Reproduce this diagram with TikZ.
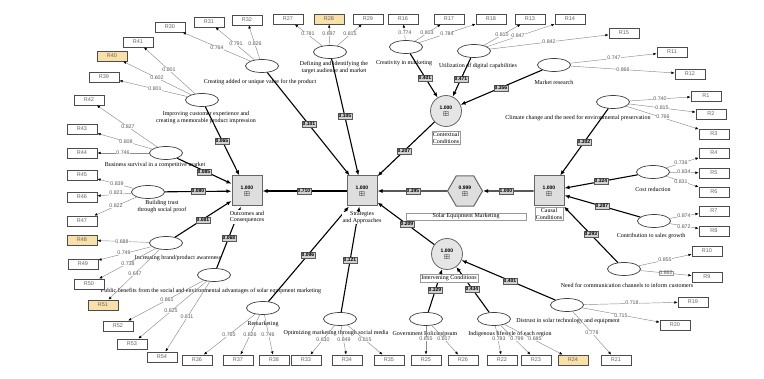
\documentclass[tikz,border=0pt]{standalone}
\usepackage{amssymb}
\usepackage{fontspec}
\setmainfont{Liberation Serif}
\setsansfont{Liberation Sans}
\usetikzlibrary{positioning, arrows.meta, shapes.geometric}
\definecolor{hlfill}{RGB}{249,224,168}
\newcommand\labfont{\fontsize{6}{6.7}\selectfont}
\newcommand\idfont{\sffamily\fontsize{5.5}{6}\selectfont}
\newcommand\numfont{\sffamily\fontsize{5.3}{6}\selectfont}
\newcommand\coeffont{\sffamily\bfseries\fontsize{5}{5.6}\selectfont}
\newcommand\hubsym{{\fontsize{6.5}{6.5}\selectfont$\boxplus$}}

\begin{document}
\begin{tikzpicture}[
    x=1pt, y=-1pt,
    lat/.style={
        ellipse,
        draw=black!75,
        line width=0.7pt,
        fill=white,
        minimum width=33pt,
        minimum height=13pt,
        inner sep=0pt
    },
    ind/.style={
        draw=black!70,
        line width=0.8pt,
        fill=white,
        minimum width=30pt,
        minimum height=10pt,
        inner sep=0pt,
        font=\idfont,
        text=black!60
    },
    indhl/.style={ind, fill=hlfill},
    hub/.style={
        draw=black!60,
        fill=black!13,
        line width=1pt,
        minimum size=30pt,
        inner sep=0pt,
        align=center,
        font=\coeffont
    },
    circ/.style={hub, circle, line width=0.8pt, fill=black!10, minimum size=31pt},
    hexa/.style={hub, regular polygon, regular polygon sides=6, minimum size=35pt},
    lbl/.style={font=\labfont, align=center, inner sep=0.5pt},
    hublbl/.style={lbl, fill=white},
    boxlbl/.style={lbl, fill=white, draw=black!40, line width=0.3pt, inner sep=1pt},
    ld/.style={
        draw=black!45,
        line width=0.45pt,
        -{Latex[length=3.2pt, width=2.6pt, color=black]}
    },
    lv/.style={fill=white, inner sep=0.4pt, font=\numfont, text=black!65},
    pth/.style={
        line width=1.1pt,
        -{Latex[length=5pt, width=4pt]}
    },
    cf/.style={
        draw=black!65,
        fill=black!18,
        line width=0.4pt,
        inner sep=1pt,
        font=\coeffont
    }
]
\useasboundingbox (0,0) rectangle (764,379);

% Hubs
\node[hub] (outc) at (247,191) {1.000\\[1pt]\hubsym};
\node[hub] (strat) at (362,191) {1.000\\[1pt]\hubsym};
\node[hub] (causal) at (549,191) {1.000\\[1pt]\hubsym};
\node[hexa] (sem) at (465,191) {0.999\\[1pt]\hubsym};
\node[circ] (ctx) at (446,111) {1.000\\[1pt]\hubsym};
\node[circ] (intv) at (447,254) {1.000\\[1pt]\hubsym};

% Latent variables (clockwise from top left)
\node[lat] (ecr) at (262,66) {};
\node[lbl] (ecr-t) at (260,82) {Creating added or unique value for the product};
\node[lat] (edf) at (330,52) {};
\node[lbl] (edf-t) at (334,67.5) {Defining and identifying the\\target audience and market};
\node[lat] (ecm) at (406,47) {};
\node[lbl] (ecm-t) at (404,63) {Creativity in marketing};
\node[lat] (eud) at (474,51) {};
\node[lbl] (eud-t) at (478,66) {Utilization of digital capabilities};
\node[lat] (emr) at (554,65) {};
\node[lbl] (emr-t) at (554,82) {Market research};
\node[lat] (ecc) at (613,102) {};
\node[lbl] (ecc-t) at (578,118) {Climate change and the need for environmental preservation};
\node[lat] (ecd) at (653,172) {};
\node[lbl] (ecd-t) at (653,189) {Cost reduction};
\node[lat] (ecs) at (654,221) {};
\node[lbl] (ecs-t) at (651,236) {Contribution to sales growth};
\node[lat] (enc) at (624,269) {};
\node[lbl] (enc-t) at (627,285) {Need for communication channels to inform customers};
\node[lat] (edt) at (567,305) {};
\node[lbl] (edt-t) at (568,321) {Distrust in solar technology and equipment};
\node[lat] (eil) at (494,319) {};
\node[lbl] (eil-t) at (510,334) {Indigenous lifestyle of each region};
\node[lat] (egp) at (426,319) {};
\node[lbl] (egp-t) at (425,334) {Government Policies|psum};
\node[lat] (eom) at (340,319) {};
\node[lbl] (eom-t) at (336,333) {Optimizing marketing through social media};
\node[lat] (erm) at (263,308) {};
\node[lbl] (erm-t) at (263,324) {Remarketing};
\node[lat] (epb) at (214,275) {};
\node[lbl] (epb-t) at (211,291) {Public benefits from the social and environmental advantages of solar equipment marketing};
\node[lat] (eib) at (166,243) {};
\node[lbl] (eib-t) at (178,258) {Increasing brand/product awareness};
\node[lat] (ebt) at (148,192) {};
\node[lbl] (ebt-t) at (162,206.5) {Building trust\\through social proof};
\node[lat] (ebs) at (166,153) {};
\node[lbl] (ebs-t) at (155,165) {Business survival in a competitive market};
\node[lat] (eic) at (202,100) {};
\node[lbl] (eic-t) at (206,117.5) {Improving customer experience and\\creating a memorable product impression};

% Indicators
\node[ind] (r1) at (706,96) {R1};
\node[ind] (r2) at (711,114) {R2};
\node[ind] (r3) at (714,134) {R3};
\node[ind] (r4) at (714,153) {R4};
\node[ind] (r5) at (714,173) {R5};
\node[ind] (r6) at (714,192) {R6};
\node[ind] (r7) at (714,211) {R7};
\node[ind] (r8) at (714,231) {R8};
\node[ind] (r9) at (707,277) {R9};
\node[ind] (r10) at (707,251) {R10};
\node[ind] (r11) at (672,52) {R11};
\node[ind] (r12) at (690,74) {R12};
\node[ind] (r13) at (530,19) {R13};
\node[ind] (r14) at (570,19) {R14};
\node[ind] (r15) at (624,33) {R15};
\node[ind] (r16) at (403,19) {R16};
\node[ind] (r17) at (449,19) {R17};
\node[ind] (r18) at (491,19) {R18};
\node[ind] (r19) at (693,302) {R19};
\node[ind] (r20) at (675,325) {R20};
\node[ind] (r21) at (616,360) {R21};
\node[ind] (r22) at (502,360) {R22};
\node[ind] (r23) at (536,360) {R23};
\node[indhl] (r24) at (573,360) {R24};
\node[ind] (r25) at (426,360) {R25};
\node[ind] (r26) at (463,360) {R26};
\node[ind] (r27) at (288,19) {R27};
\node[indhl] (r28) at (329,19) {R28};
\node[ind] (r29) at (368,19) {R29};
\node[ind] (r30) at (170,27) {R30};
\node[ind] (r31) at (209,22) {R31};
\node[ind] (r32) at (247,20) {R32};
\node[ind] (r33) at (306,360) {R33};
\node[ind] (r34) at (347,360) {R34};
\node[ind] (r35) at (389,360) {R35};
\node[ind] (r36) at (197,360) {R36};
\node[ind] (r37) at (238,360) {R37};
\node[ind] (r38) at (274,360) {R38};
\node[ind] (r39) at (104,77) {R39};
\node[indhl] (r40) at (112,56) {R40};
\node[ind] (r41) at (138,42) {R41};
\node[ind] (r42) at (89,100) {R42};
\node[ind] (r43) at (82,129) {R43};
\node[ind] (r44) at (82,153) {R44};
\node[ind] (r45) at (82,175) {R45};
\node[ind] (r46) at (82,197) {R46};
\node[ind] (r47) at (82,221) {R47};
\node[indhl] (r48) at (82,240) {R48};
\node[ind] (r49) at (83,264) {R49};
\node[ind] (r50) at (89,284) {R50};
\node[indhl] (r51) at (103,305) {R51};
\node[ind] (r52) at (118,326) {R52};
\node[ind] (r53) at (132,344) {R53};
\node[ind] (r54) at (162,357) {R54};

% Outer loadings
\draw[ld] (ecc) -- (r1) node[lv] (v1) at (660,99) {0.740};
\draw[ld] (ecc) -- (r2) node[lv] (v2) at (662,108) {0.815};
\draw[ld] (ecc) -- (r3) node[lv] (v3) at (663,117) {0.766};
\draw[ld] (ecd) -- (r4) node[lv] (v4) at (681,163) {0.736};
\draw[ld] (ecd) -- (r5) node[lv] (v5) at (684,172) {0.834};
\draw[ld] (ecd) -- (r6) node[lv] (v6) at (681,182) {0.831};
\draw[ld] (ecs) -- (r7) node[lv] (v7) at (684,216) {0.874};
\draw[ld] (ecs) -- (r8) node[lv] (v8) at (684,227) {0.872};
\draw[ld] (enc) -- (r10) node[lv] (v10) at (665,260) {0.855};
\draw[ld] (enc) -- (r9) node[lv, draw=black!40, line width=0.3pt] (v9) at (666,273) {0.862};
\draw[ld] (edt) -- (r19) node[lv] (v19) at (632,303) {0.718};
\draw[ld] (edt) -- (r20) node[lv] (v20) at (621,316) {0.715};
\draw[ld] (edt) -- (r21) node[lv] (v21) at (592,333) {0.778};
\draw[ld] (eil) -- (r22) node[lv] (v22) at (499,339) {0.783};
\draw[ld] (eil) -- (r23) node[lv] (v23) at (517,339) {0.799};
\draw[ld] (eil) -- (r24) node[lv] (v24) at (535,339) {0.685};
\draw[ld] (egp) -- (r25) node[lv] (v25) at (426,339) {0.855};
\draw[ld] (egp) -- (r26) node[lv] (v26) at (444,339) {0.817};
\draw[ld] (eom) -- (r33) node[lv] (v33) at (323,340) {0.830};
\draw[ld] (eom) -- (r34) node[lv] (v34) at (344,340) {0.849};
\draw[ld] (eom) -- (r35) node[lv] (v35) at (365,340) {0.815};
\draw[ld] (erm) -- (r36) node[lv] (v36) at (229,335) {0.765};
\draw[ld] (erm) -- (r37) node[lv] (v37) at (250,335) {0.826};
\draw[ld] (erm) -- (r38) node[lv] (v38) at (268,335) {0.746};
\draw[ld] (epb) -- (r52) node[lv] (v52) at (167,300) {0.861};
\draw[ld] (epb) -- (r53) node[lv] (v53) at (171,311) {0.825};
\draw[ld] (epb) -- (r54) node[lv] (v54) at (187,317) {0.811};
\draw[ld] (eib) -- (r48) node[lv] (v48) at (122,242) {0.688};
\draw[ld] (eib) -- (r49) node[lv] (v49) at (124,253) {0.749};
\draw[ld] (eib) -- (r50) node[lv] (v50) at (128,264) {0.738};
\draw[ld] (eib) -- (r51) node[lv] (v51) at (135,274) {0.647};
\draw[ld] (ebt) -- (r45) node[lv] (v45) at (117,184) {0.839};
\draw[ld] (ebt) -- (r46) node[lv] (v46) at (116,193) {0.823};
\draw[ld] (ebt) -- (r47) node[lv] (v47) at (116,206) {0.822};
\draw[ld] (ebs) -- (r42) node[lv] (v42) at (128,127) {0.827};
\draw[ld] (ebs) -- (r43) node[lv] (v43) at (126,142) {0.808};
\draw[ld] (ebs) -- (r44) node[lv] (v44) at (123,153) {0.746};
\draw[ld] (eic) -- (r41) node[lv] (v41) at (169,70) {0.801};
\draw[ld] (eic) -- (r40) node[lv] (v40) at (157,78) {0.602};
\draw[ld] (eic) -- (r39) node[lv] (v39) at (155,89) {0.801};
\draw[ld] (ecr) -- (r30) node[lv] (v30) at (217,48) {0.764};
\draw[ld] (ecr) -- (r31) node[lv] (v31) at (236,44) {0.791};
\draw[ld] (ecr) -- (r32) node[lv] (v32) at (255,44) {0.826};
\draw[ld] (edf) -- (r27) node[lv] (v27) at (308,34) {0.781};
\draw[ld] (edf) -- (r28) node[lv] (v28) at (329,34) {0.697};
\draw[ld] (edf) -- (r29) node[lv] (v29) at (350,34) {0.815};
\draw[ld] (ecm) -- (r16) node[lv] (v16) at (405,33) {0.774};
\draw[ld] (ecm) -- (r17) node[lv] (v17) at (427,33) {0.803};
\draw[ld] (ecm) -- (r18) node[lv] (v18) at (447,34) {0.784};
\draw[ld] (eud) -- (r13) node[lv] (v13) at (502,35) {0.810};
\draw[ld] (eud) -- (r14) node[lv] (v14) at (518,36) {0.847};
\draw[ld] (eud) -- (r15) node[lv] (v15) at (549,42) {0.842};
\draw[ld] (emr) -- (r11) node[lv] (v11) at (614,58) {0.747};
\draw[ld] (emr) -- (r12) node[lv] (v12) at (623,70) {0.866};

% Path coefficients
\draw[pth] (eic) -- (outc) node[cf] (c1) at (222,141) {0.065};
\draw[pth] (ebs) -- (outc) node[cf] (c2) at (204,172) {0.085};
\draw[pth] (ebt) -- (outc) node[cf] (c3) at (198,191) {0.080};
\draw[pth] (eib) -- (outc) node[cf] (c4) at (203,220) {0.081};
\draw[pth] (epb) -- (outc) node[cf] (c5) at (229,238) {0.068};
\draw[pth] (strat) -- (outc) node[cf] (c6) at (304,191) {0.710};
\draw[pth] (ecr) -- (strat) node[cf] (c7) at (309,124) {0.101};
\draw[pth] (edf) -- (strat) node[cf] (c8) at (345,116) {0.105};
\draw[pth] (ctx) -- (strat) node[cf] (c9) at (404,151) {0.207};
\draw[pth] (sem) -- (strat) node[cf] (c10) at (413,191) {0.395};
\draw[pth] (intv) -- (strat) node[cf] (c11) at (407,224) {0.209};
\draw[pth] (eom) -- (strat) node[cf] (c12) at (350,260) {0.121};
\draw[pth] (erm) -- (strat) node[cf] (c13) at (308,255) {0.096};
\draw[pth] (ecm) -- (ctx) node[cf] (c14) at (425,78) {0.401};
\draw[pth] (eud) -- (ctx) node[cf] (c15) at (461,79) {0.471};
\draw[pth] (emr) -- (ctx) node[cf] (c16) at (501,88) {0.356};
\draw[pth] (causal) -- (sem) node[cf] (c17) at (506,191) {1.000};
\draw[pth] (ecc) -- (causal) node[cf] (c18) at (584,142) {0.302};
\draw[pth] (ecd) -- (causal) node[cf] (c19) at (601,181) {0.324};
\draw[pth] (ecs) -- (causal) node[cf] (c20) at (602,206) {0.287};
\draw[pth] (enc) -- (causal) node[cf] (c21) at (591,234) {0.293};
\draw[pth] (edt) -- (intv) node[cf] (c22) at (510,281) {0.401};
\draw[pth] (egp) -- (intv) node[cf] (c23) at (435,290) {0.329};
\draw[pth] (eil) -- (intv) node[cf] (c24) at (472,289) {0.434};

% Hub captions
\node[hublbl] (outc-t) at (247,217) {Outcomes and\\Consequences};
\node[hublbl] (strat-t) at (362,218) {Strategies\\and Approaches};
\node[boxlbl] (causal-t) at (549,214) {Causal\\Conditions};
\node[boxlbl, minimum width=120pt] (sem-t) at (466,216.5) {Solar Equipment Marketing};
\node[boxlbl] (ctx-t) at (446,138) {Contextual\\Conditions};
\node[boxlbl] (intv-t) at (449,278) {Intervening Conditions};

\end{tikzpicture}
\end{document}
